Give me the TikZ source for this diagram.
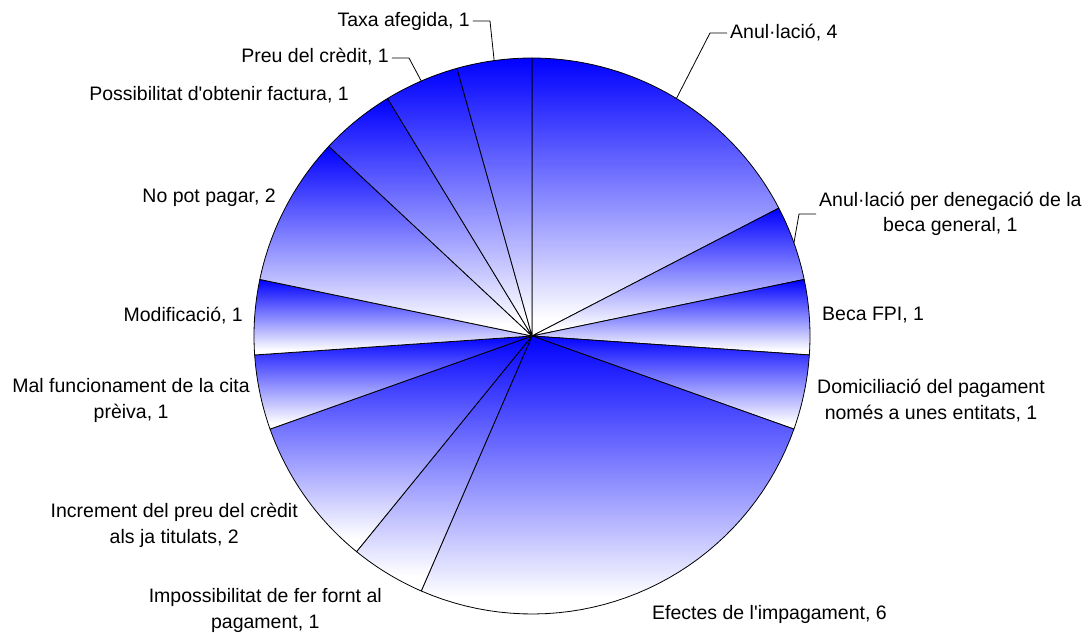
\documentclass[tikz,border=0pt]{standalone}
\usepackage{fontspec}
\setmainfont{Liberation Sans}
\definecolor{pieblue}{RGB}{0,0,255}
\pgfdeclareverticalshading{piefade}{100bp}{color(0bp)=(white); color(28bp)=(white); color(75bp)=(pieblue); color(100bp)=(pieblue)}
\tikzset{
	wedge/.style={shading=piefade, draw=black, line width=.8pt, line join=round},
	lbl/.style={inner sep=0pt, align=center, font=\fontsize{19.5}{25.5}\selectfont},
	leader/.style={draw=black, line width=.8pt}
}
\begin{document}
\begin{tikzpicture}[x=1pt,y=1pt]
			\useasboundingbox (-532,-296) rectangle (560,336);
			\def\R{278}
			%WEDGES (23 answers, clockwise from the top)
			\foreach \s/\e in {0/4,4/5,5/6,6/7,7/13,13/14,14/16,16/17,17/18,18/20,20/21,21/22,22/23}
				\shadedraw[wedge] (0,0) -- plot[domain={90-\s*360/23}:{90-\e*360/23}, samples=40] (\x:\R) -- cycle;
			%LABELS
			\node[lbl, anchor=base west] (anul) at (198,297) {Anul·lació, 4};
			\node[lbl, anchor=base west] (deneg) at (287,104) {Anul·lació per denegació de la\\beca general, 1};
			\node[lbl, anchor=base west] (beca) at (290,16) {Beca FPI, 1};
			\node[lbl, anchor=base west] (domic) at (285,-83) {Domiciliació del pagament\\només a unes entitats, 1};
			\node[lbl, anchor=base west] (efectes) at (120,-283) {Efectes de l\textquotesingle impagament, 6};
			\node[lbl, anchor=base east] (imposs) at (-150,-292) {Impossibilitat de fer fornt al\\pagament, 1};
			\node[lbl, anchor=base east] (incr) at (-234,-207) {Increment del preu del crèdit\\als ja titulats, 2};
			\node[lbl, anchor=base east] (mal) at (-282,-82) {Mal funcionament de la cita\\prèiva, 1};
			\node[lbl, anchor=base east] (modif) at (-289,15) {Modificació, 1};
			\node[lbl, anchor=base east] (nopot) at (-256,133) {No pot pagar, 2};
			\node[lbl, anchor=base east] (poss) at (-183,235) {Possibilitat d\textquotesingle obtenir factura, 1};
			\node[lbl, anchor=base east] (preu) at (-143,273) {Preu del crèdit, 1};
			\node[lbl, anchor=base east] (taxa) at (-62,309) {Taxa afegida, 1};
			%LEADERS to the middle of the small wedges
			\coordinate (anulpt) at ({90-2*360/23}:\R);
			\coordinate (denegpt) at ({90-4.5*360/23}:\R);
			\coordinate (preupt) at ({90-21.5*360/23}:\R);
			\coordinate (taxapt) at ({90-22.5*360/23}:\R);
			\draw[leader] ([shift={(-3,6)}]anul.base west) -- ++(-17,0) -- (anulpt);
			\draw[leader] ([xshift=-3]deneg.west) -- ++(-17,0) -- (denegpt);
			\draw[leader] ([shift={(3,5)}]preu.base east) -- ++(17,0) -- (preupt);
			\draw[leader] ([shift={(3,6)}]taxa.base east) -- ++(17,0) -- (taxapt);
		\end{tikzpicture}
\end{document}
